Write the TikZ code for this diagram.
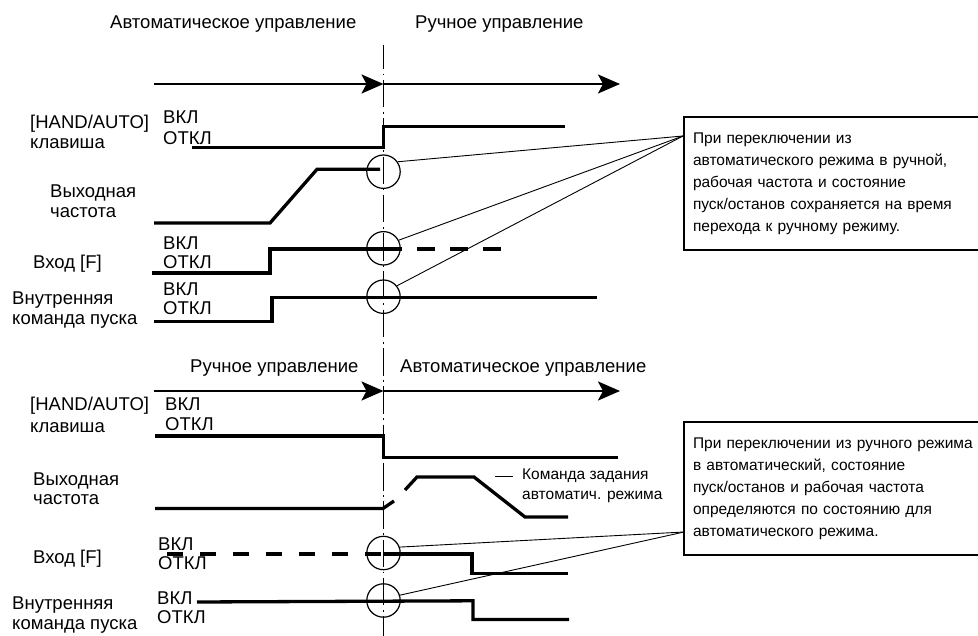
\documentclass[tikz,border=0pt]{standalone}
\usepackage{fontspec}
\setmainfont{Liberation Sans}
\usetikzlibrary{arrows.meta}
\begin{document}
\begin{tikzpicture}[x=1pt,y=-1pt,
  lbl/.style={anchor=base west, inner sep=0pt, font=\fontsize{18.5}{20.5}\selectfont},
  sig/.style={line width=3.3pt},
  sigdash/.style={line width=3.3pt, dash pattern=on 16pt off 17pt},
  vline/.style={line width=1.6pt, dash pattern=on 27.5pt off 4.5pt on 1.8pt off 4.5pt, dash phase=3.3pt},
  arr/.style={line width=2.5pt, -{Stealth[length=22pt,width=19pt,inset=5pt]}},
  ring/.style={circle, draw, line width=1.2pt, minimum size=33.4pt, inner sep=0pt},
  callline/.style={line width=0.9pt},
  notebox/.style={draw, line width=2pt, anchor=north west, align=left, text width=300pt, inner xsep=9pt, inner ysep=0pt, minimum height=133pt, font=\fontsize{15.5}{22}\selectfont},
  cmd/.style={anchor=base west, inner sep=0pt, font=\fontsize{15.5}{20}\selectfont}
]
\path[use as bounding box, fill=white] (0,0) rectangle (978,636);

% vertical dash-dot line
\coordinate (vt) at (383.5,45);
\coordinate (vb) at (383.5,640);
\draw[vline] (vt) -- (vb);

% titles
\node[lbl] (t1) at (110,29) {Автоматическое управление};
\node[lbl] (t2) at (415,29) {Ручное управление};
\node[lbl] (t3) at (190,373) {Ручное управление};
\node[lbl] (t4) at (400,373) {Автоматическое управление};

% time arrows
\coordinate (a1) at (154,84); \coordinate (a2) at (383.5,84); \coordinate (a3) at (620,84);
\draw[arr] (a1) -- (a2); \draw[arr] (a2) -- (a3);
\coordinate (b1) at (154,391); \coordinate (b2) at (383.5,391); \coordinate (b3) at (620,391);
\draw[arr] (b1) -- (b2); \draw[arr] (b2) -- (b3);

% top labels
\node[lbl] (l1) at (30,129) {[HAND/AUTO]};
\node[lbl] (l2) at (30,149) {клавиша};
\node[lbl] (l3) at (163,124) {ВКЛ};
\node[lbl] (l4) at (163,145) {ОТКЛ};
\node[lbl] (l5) at (50,198) {Выходная};
\node[lbl] (l6) at (50,218) {частота};
\node[lbl] (l7) at (33,269) {Вход [F]};
\node[lbl] (l8) at (163,250) {ВКЛ};
\node[lbl] (l9) at (163,269) {ОТКЛ};
\node[lbl] (l10) at (12,305) {Внутренняя};
\node[lbl] (l11) at (12,325) {команда пуска};
\node[lbl] (l12) at (163,296) {ВКЛ};
\node[lbl] (l13) at (163,315) {ОТКЛ};

% bottom labels
\node[lbl] (m1) at (30,411) {[HAND/AUTO]};
\node[lbl] (m2) at (30,432) {клавиша};
\node[lbl] (m3) at (165,410) {ВКЛ};
\node[lbl] (m4) at (165,431) {ОТКЛ};
\node[lbl] (m5) at (33,485) {Выходная};
\node[lbl] (m6) at (33,504) {частота};
\node[lbl] (m7) at (33,563) {Вход [F]};
\node[lbl] (m8) at (158,550) {ВКЛ};
\node[lbl] (m9) at (158,569) {ОТКЛ};
\node[lbl] (m10) at (12,609) {Внутренняя};
\node[lbl] (m11) at (12,629) {команда пуска};
\node[lbl] (m12) at (157,604) {ВКЛ};
\node[lbl] (m13) at (157,623) {ОТКЛ};

% top signals
\draw[sig] (192,147.5) -- (383.5,147.5) -- (383.5,126.5) -- (565,126.5);
\draw[sig] (154,223) -- (270,223) -- (317,169.3) -- (380,169.3);
\draw[sig] (152,273) -- (270,273) -- (270,249) -- (384,249);
\draw[sig, dash pattern=on 18pt off 15pt] (384,249) -- (503,249);
\draw[sig] (154,321.5) -- (272,321.5) -- (272,297.5) -- (597,297.5);

% bottom signals
\draw[sig] (155,436) -- (383.5,436) -- (383.5,457.7) -- (618,457.7);
\draw[sig] (155,508.5) -- (383,508.5) -- (394,501);
\draw[sig] (405,490) -- (417,477) -- (474,477) -- (525,517) -- (568,517);
\draw[sigdash] (167,554) -- (383,554);
\draw[sig] (383,554) -- (472,554) -- (472,573.5) -- (568,573.5);
\draw[sig] (197,602) -- (473,600.8) -- (473,619.5) -- (569,619.5);

% command note
\coordinate (d1) at (495,476.5); \coordinate (d2) at (513,476.5);
\draw[line width=1.8pt] (d1) -- (d2);
\node[cmd] (k1) at (522,479) {Команда задания};
\node[cmd] (k2) at (522,499) {автоматич. режима};

% circles
\node[ring] (c1) at (383.5,171.7) {};
\node[ring] (c2) at (383.5,248.3) {};
\node[ring] (c3) at (383.5,296.7) {};
\node[ring] (c4) at (383.5,553) {};
\node[ring] (c5) at (383.5,600.5) {};

% note boxes
\node[notebox] (n1) at (683,116) {При переключении из\\автоматического режима в ручной,\\рабочая частота и состояние\\пуск/останов сохраняется на время\\перехода к ручному режиму.};
\node[notebox] (n2) at (683,421) {При переключении из ручного режима\\в автоматический, состояние\\пуск/останов и рабочая частота\\определяются по состоянию для\\автоматического режима.};

% callout lines
\coordinate (p1) at (683,136);
\coordinate (p2) at (684,532);
\draw[callline] (c1.35) -- (p1);
\draw[callline] (c2.28) -- (p1);
\draw[callline] (c3.39) -- (p1);
\draw[callline] (c4.20) -- (p2);
\draw[callline] (c5.18) -- (p2);
\end{tikzpicture}
\end{document}
